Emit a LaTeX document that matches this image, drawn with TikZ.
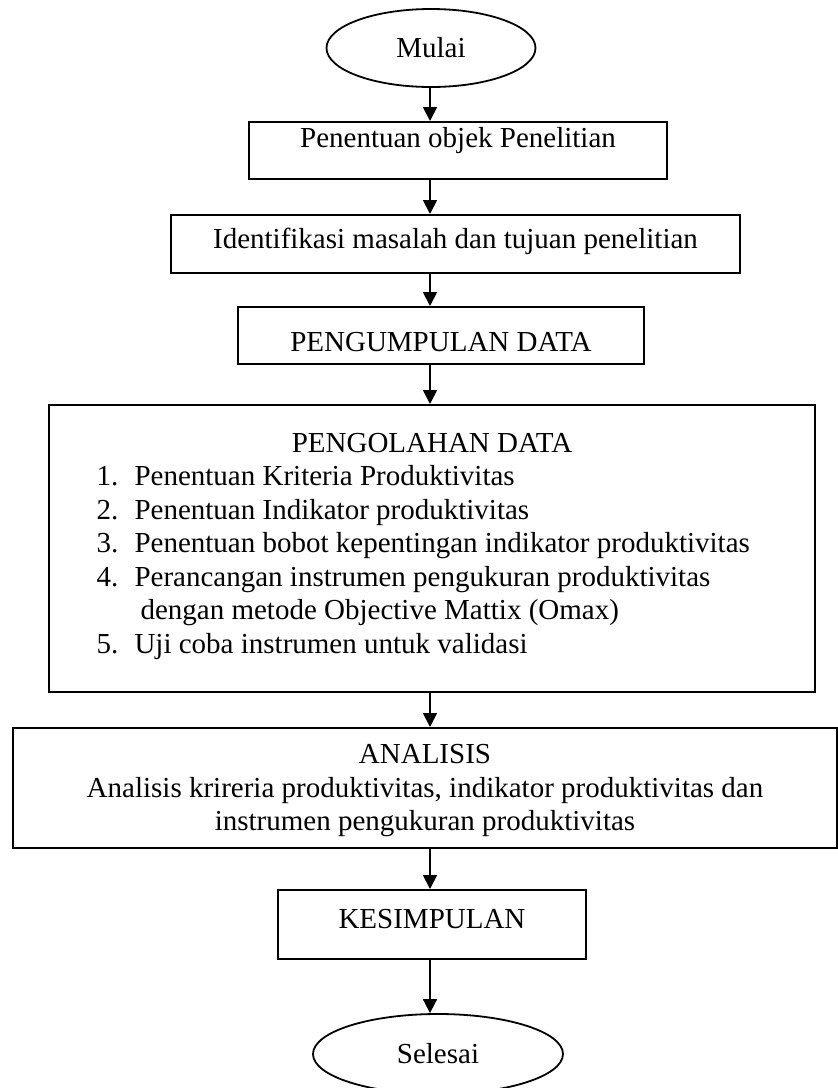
\documentclass[tikz,border=0pt]{standalone}
\usepackage{fontspec}
\setmainfont{Liberation Serif}
\usetikzlibrary{arrows.meta,shapes.geometric}

\begin{document}
\begin{tikzpicture}[x=0.5pt, y=-0.5pt, line width=0.9pt, every node/.style={font=\fontsize{14.5}{16.75}\selectfont}, >={Triangle[length=7pt, width=7pt]}, box/.style={draw, rectangle, inner sep=0pt, anchor=north}, term/.style={draw, ellipse, inner sep=0pt}]
	\useasboundingbox (0,0) rectangle (838,1088);
	\coordinate (spine) at (430,0);
	\node[term, minimum width=104.5pt, minimum height=39pt] (mulai) at (431,48) {Mulai};
	\node[box, minimum width=209pt, text height=13pt, text depth=15.5pt] (objek) at (458,121) {Penentuan objek Penelitian};
	\node[box, minimum width=284.5pt, text height=17pt, text depth=12pt] (masalah) at (455.5,214) {Identifikasi masalah dan tujuan penelitian};
	\node[box, minimum width=203pt, text height=22.5pt, text depth=6pt] (kumpul) at (441,306) {PENGUMPULAN DATA};
	\node[box, minimum width=383pt, minimum height=143.5pt] (olah) at (432,404) {};
	\node[anchor=base] (olahjudul) at (432,452) {PENGOLAHAN DATA};
	\node[anchor=base west, align=left] (olahlangkah) at (89,653) {\makebox[19pt][l]{1.}Penentuan Kriteria Produktivitas\\ \makebox[19pt][l]{2.}Penentuan Indikator produktivitas\\ \makebox[19pt][l]{3.}Penentuan bobot kepentingan indikator produktivitas\\ \makebox[19pt][l]{4.}Perancangan instrumen pengukuran produktivitas\\ \hspace*{22pt}dengan metode Objective Mattix (Omax)\\ \makebox[19pt][l]{5.}Uji coba instrumen untuk validasi};
	\node[box, minimum width=412pt, align=center, text height=51.5pt, text depth=8.5pt] (analisis) at (425,727) {ANALISIS\\ Analisis krireria produktivitas, indikator produktivitas dan\\ instrumen pengukuran produktivitas};
	\node[box, minimum width=154pt, text height=19.5pt, text depth=15pt] (simpul) at (432,889) {KESIMPULAN};
	\node[term, minimum width=125pt, minimum height=40pt] (selesai) at (438,1054) {Selesai};
	\foreach \a/\b in {mulai/objek, objek/masalah, masalah/kumpul, kumpul/olah, olah/analisis, analisis/simpul, simpul/selesai} {\draw[->] (spine |- \a.south) -- (spine |- \b.north);}
\end{tikzpicture}
\end{document}
